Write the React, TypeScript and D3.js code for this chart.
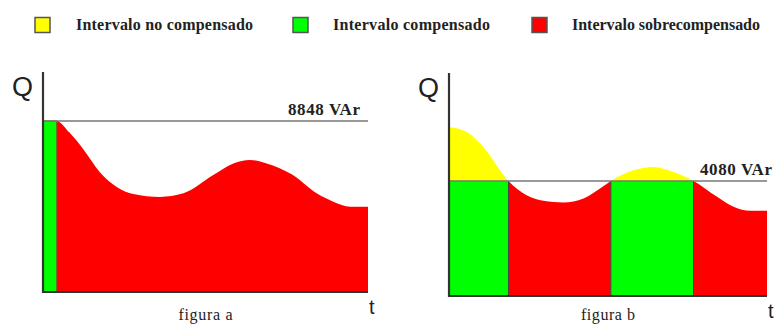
import React from "react";
import * as d3 from "d3";

// ---- data ----
const legendLabels = ["Intervalo no compensado", "Intervalo compensado", "Intervalo sobrecompensado"];
const legendColors = ["#ffff00", "#00ff00", "#ff0000"];

// panel a: time (0-100) and Q (% of initial demand)
const tA = [0, 4.2, 8, 12.4, 17.5, 22.7, 27.8, 36, 43.2, 52.4, 58.6, 63.7, 68.8, 76.5, 84.2, 89.3, 94.5, 100];
const qA = [100, 100, 93.5, 83.5, 70, 61.4, 57.3, 55.6, 57.7, 68.4, 75.2, 77.2, 75.2, 68.8, 57.7, 52.8, 49.9, 49.9];
const levelA = 100;
const labelA = "8848 VAr";
const greenEndA = 4.2;

// panel b
const tB = [0, 5.6, 10.8, 18.7, 24.4, 29.7, 36, 42.3, 47.5, 50.9, 58, 64.3, 70.6, 76.9, 84.3, 89.5, 94.8, 100];
const qB = [100, 97, 88.2, 68.1, 59.6, 56.3, 55.3, 57.7, 63.6, 68.1, 74.4, 76.4, 73.4, 68.1, 58.7, 52.8, 50.4, 50.4];
const levelB = 68.1;
const labelB = "4080 VAr";
const intervalStartsB = [0, 18.7, 50.9, 76.9];
const intervalEndsB = [18.7, 50.9, 76.9, 100];
const intervalKindsB = ["compensado", "sobre", "compensado", "sobre"];

const captions = ["figura a", "figura b"];

const RED = "#ff0000";
const GREEN = "#00ff00";
const YELLOW = "#ffff00";
const AXIS = "#333333";
const SANS = "'Liberation Sans', Arial, sans-serif";
const SERIF = "serif";

function Panel(props: {
  id: string;
  x0: number; x1: number; yTop: number; yBase: number; yFull: number;
  t: number[]; q: number[]; level: number; label: string; caption: string;
  mode: "a" | "b";
}) {
  const { id, x0, x1, yTop, yBase, yFull, t, q, level, label, caption, mode } = props;
  const x = d3.scaleLinear().domain([0, 100]).range([x0, x1]);
  const y = d3.scaleLinear().domain([0, 100]).range([yBase, yFull]);
  const pts = t.map((v, i) => [v, q[i]] as [number, number]);
  const area = d3.area<[number, number]>()
    .x(d => x(d[0])).y0(y(0)).y1(d => y(d[1]))
    .curve(d3.curveMonotoneX);
  const areaPath = area(pts) || "";
  const yl = y(level);

  const elems: React.ReactNode[] = [];
  if (mode === "a") {
    elems.push(
      <clipPath id={`${id}-red`} key="c1">
        <rect x={x(greenEndA)} y={yl} width={x(100) - x(greenEndA)} height={400} />
      </clipPath>
    );
    elems.push(<path key="red" d={areaPath} fill={RED} clipPath={`url(#${id}-red)`} />);
    elems.push(
      <rect key="g" x={x(0)} y={yl} width={x(greenEndA) - x(0)} height={y(0) - yl}
        fill={GREEN} stroke="#6b6b2a" strokeWidth={1.2} />
    );
  } else {
    elems.push(
      <clipPath id={`${id}-yel`} key="cy">
        <rect x={x(0)} y={0} width={x(100) - x(0)} height={yl} />
      </clipPath>
    );
    elems.push(<path key="yel" d={areaPath} fill={YELLOW} clipPath={`url(#${id}-yel)`} />);
    intervalStartsB.forEach((s, i) => {
      const e = intervalEndsB[i];
      if (intervalKindsB[i] === "sobre") {
        elems.push(
          <clipPath id={`${id}-r${i}`} key={`cr${i}`}>
            <rect x={x(s)} y={yl - 2} width={x(e) - x(s)} height={400} />
          </clipPath>
        );
        elems.push(<path key={`r${i}`} d={areaPath} fill={RED} clipPath={`url(#${id}-r${i})`} />);
      } else {
        elems.push(
          <rect key={`g${i}`} x={x(s)} y={yl} width={x(e) - x(s)} height={y(0) - yl} fill={GREEN} />
        );
      }
    });
    intervalStartsB.forEach((s, i) => {
      if (intervalKindsB[i] === "compensado") {
        [s, intervalEndsB[i]].forEach((v, j) => {
          if (v > 0 && v < 100)
            elems.push(
              <line key={`b${i}-${j}`} x1={x(v)} x2={x(v)} y1={yl} y2={y(0)} stroke="#444" strokeWidth={1} />
            );
        });
      }
    });
  }

  return (
    <g>
      {elems}
      <line x1={x(0)} x2={x(100)} y1={yl} y2={yl} stroke="#777" strokeWidth={1.5} />
      <text x={mode === "a" ? x(100) - 80 : x(100) - 67} y={yl - 6}
        fontFamily={SERIF} fontWeight="bold" fontSize={17} fill="#222"
        textLength={72} lengthAdjust="spacing">{label}</text>
      <line x1={x(0)} x2={x(0)} y1={yTop} y2={yBase + 1} stroke={AXIS} strokeWidth={2.2} />
      <line x1={x(0) - 1} x2={x(100)} y1={yBase} y2={yBase} stroke={AXIS} strokeWidth={2.2} />
      <text x={x(0) - 31} y={yTop + 24} fontFamily={SANS} fontSize={27} fill="#222">Q</text>
      <text x={x(100) + 1} y={yBase + 22} fontFamily={SANS} fontSize={20} fill="#222">t</text>
      <text x={(x(0) + x(100)) / 2 - 27} y={320}
        fontFamily={SERIF} fontSize={16} fill="#222" textLength={54} lengthAdjust="spacing">{caption}</text>
    </g>
  );
}

export default function App() {
  const legendBoxX = [35, 293, 532];
  const legendTextX = [76, 333, 572];
  const legendTextLen = [177, 157, 188];
  return (
    <svg width={774} height={324} style={{ position: "absolute", left: 0, top: 0, background: "#fff" }}>
      {legendLabels.map((lab, i) => (
        <g key={lab}>
          <rect x={legendBoxX[i]} y={17.5} width={15} height={15} fill={legendColors[i]} stroke="#555" strokeWidth={1.5} />
          <text x={legendTextX[i]} y={30} fontFamily={SERIF} fontWeight="bold" fontSize={16} fill="#222"
            textLength={legendTextLen[i]} lengthAdjust="spacing">{lab}</text>
        </g>
      ))}
      <Panel id="pa" x0={43} x1={368} yTop={72} yBase={292} yFull={121}
        t={tA} q={qA} level={levelA} label={labelA} caption={captions[0]} mode="a" />
      <Panel id="pb" x0={449} x1={767} yTop={73} yBase={296} yFull={127}
        t={tB} q={qB} level={levelB} label={labelB} caption={captions[1]} mode="b" />
    </svg>
  );
}
